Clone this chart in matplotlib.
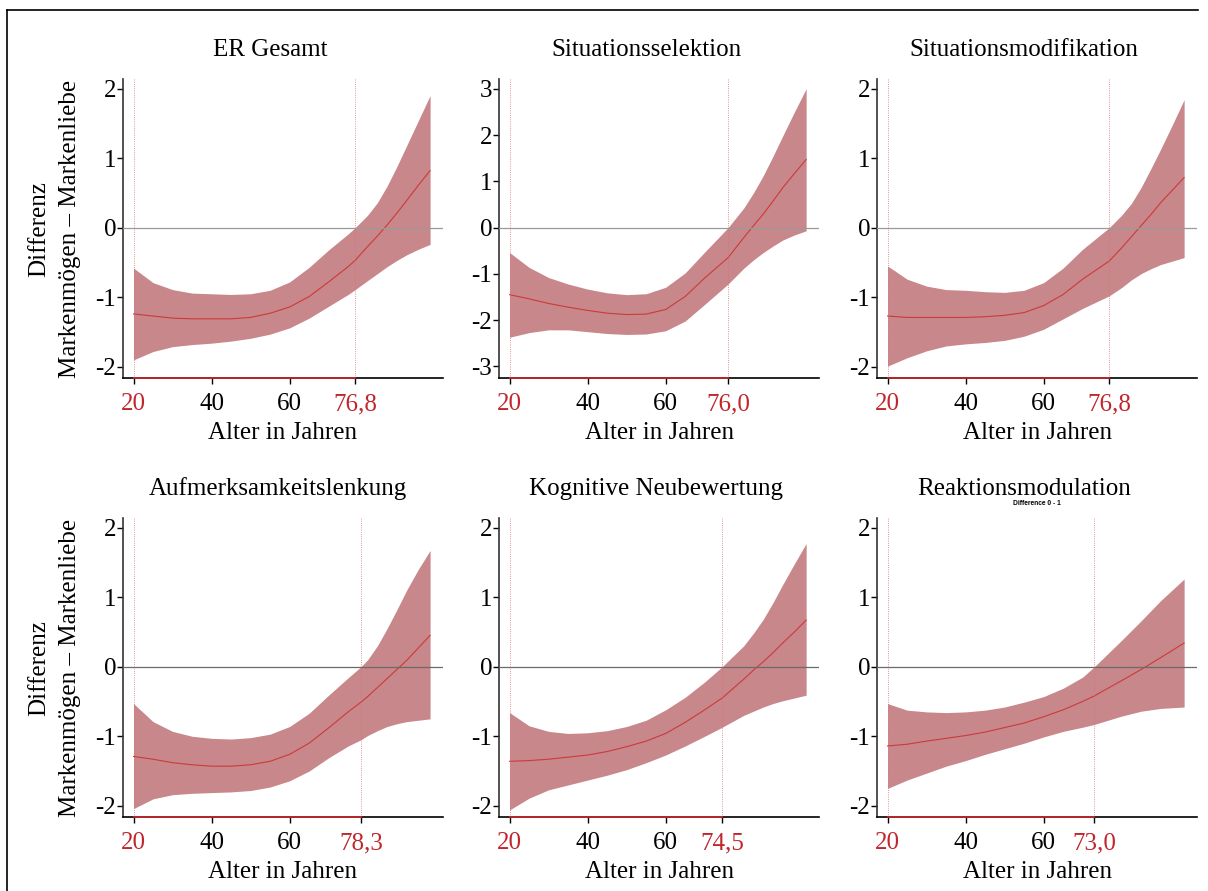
import numpy as np
from matplotlib import pyplot as plt
from matplotlib.lines import Line2D

plt.rcParams['font.family'] = ['Liberation Serif', 'DejaVu Serif']
plt.rcParams['axes.unicode_minus'] = False

################################################### # data # ##################################################

titles = ["ER Gesamt", "Situationsselektion", "Situationsmodifikation",
          "Aufmerksamkeitslenkung", "Kognitive Neubewertung", "Reaktionsmodulation"]

# age where the upper bound crosses zero
cross = [76.8, 76.0, 76.8, 78.3, 74.5, 73.0]
cross_lbl = ["76,8", "76,0", "76,8", "78,3", "74,5", "73,0"]

age_er = [20, 25, 30, 35, 40, 45, 50, 55, 60, 65, 70, 75, 76.8, 80, 82.5, 85, 87.5, 90, 93, 96]
est_er = [-1.24, -1.27, -1.30, -1.31, -1.31, -1.31, -1.29, -1.23, -1.14, -0.99, -0.78, -0.56, -0.47, -0.27, -0.12, 0.04, 0.21, 0.39, 0.61, 0.82]
hi_er = [-0.58, -0.79, -0.89, -0.94, -0.95, -0.96, -0.95, -0.90, -0.78, -0.57, -0.32, -0.09, 0.0, 0.18, 0.36, 0.60, 0.88, 1.18, 1.54, 1.90]
lo_er = [-1.90, -1.78, -1.71, -1.68, -1.66, -1.63, -1.59, -1.53, -1.44, -1.30, -1.13, -0.96, -0.89, -0.76, -0.66, -0.56, -0.47, -0.39, -0.31, -0.24]

age_sel = [20, 25, 30, 35, 40, 45, 50, 55, 60, 65, 70, 76, 80, 82.5, 85, 87.5, 90, 93, 96]
est_sel = [-1.45, -1.54, -1.64, -1.72, -1.79, -1.85, -1.88, -1.87, -1.77, -1.49, -1.09, -0.65, -0.22, 0.04, 0.29, 0.57, 0.86, 1.17, 1.47]
hi_sel = [-0.54, -0.86, -1.08, -1.22, -1.33, -1.41, -1.45, -1.43, -1.29, -0.98, -0.53, 0.0, 0.42, 0.75, 1.12, 1.54, 1.98, 2.50, 3.0]
lo_sel = [-2.37, -2.27, -2.21, -2.21, -2.25, -2.29, -2.31, -2.30, -2.23, -2.02, -1.66, -1.22, -0.88, -0.70, -0.54, -0.40, -0.27, -0.16, -0.07]

age_mod = [20, 25, 30, 35, 40, 45, 50, 55, 60, 65, 70, 76.8, 80, 82.5, 85, 87.5, 90, 93, 96]
est_mod = [-1.27, -1.29, -1.29, -1.29, -1.29, -1.28, -1.26, -1.22, -1.12, -0.96, -0.74, -0.48, -0.29, -0.13, 0.03, 0.19, 0.36, 0.54, 0.72]
hi_mod = [-0.55, -0.74, -0.84, -0.89, -0.90, -0.92, -0.93, -0.90, -0.79, -0.58, -0.31, 0.0, 0.18, 0.35, 0.58, 0.85, 1.13, 1.48, 1.84]
lo_mod = [-1.99, -1.87, -1.77, -1.70, -1.67, -1.65, -1.62, -1.56, -1.46, -1.31, -1.16, -0.98, -0.86, -0.75, -0.66, -0.59, -0.53, -0.48, -0.43]

age_auf = [20, 25, 30, 35, 40, 45, 50, 55, 60, 65, 70, 75, 78.3, 80, 82.5, 85, 87.5, 90, 93, 96]
est_auf = [-1.29, -1.33, -1.38, -1.41, -1.43, -1.43, -1.41, -1.36, -1.26, -1.10, -0.88, -0.65, -0.51, -0.43, -0.30, -0.17, -0.04, 0.09, 0.27, 0.45]
hi_auf = [-0.53, -0.79, -0.93, -1.00, -1.03, -1.04, -1.02, -0.97, -0.86, -0.67, -0.41, -0.16, 0.0, 0.10, 0.30, 0.55, 0.82, 1.10, 1.40, 1.67]
lo_auf = [-2.04, -1.90, -1.84, -1.82, -1.81, -1.80, -1.78, -1.73, -1.64, -1.50, -1.31, -1.14, -1.05, -0.99, -0.92, -0.86, -0.82, -0.79, -0.77, -0.75]

age_kog = [20, 25, 30, 35, 40, 45, 50, 55, 60, 65, 70, 74.5, 80, 82.5, 85, 87.5, 90, 93, 96]
est_kog = [-1.36, -1.35, -1.33, -1.30, -1.27, -1.22, -1.15, -1.07, -0.96, -0.80, -0.62, -0.45, -0.18, -0.05, 0.07, 0.20, 0.34, 0.50, 0.67]
hi_kog = [-0.66, -0.85, -0.93, -0.96, -0.95, -0.92, -0.86, -0.77, -0.62, -0.44, -0.22, 0.0, 0.30, 0.48, 0.68, 0.92, 1.18, 1.48, 1.77]
lo_kog = [-2.06, -1.89, -1.77, -1.70, -1.63, -1.56, -1.48, -1.38, -1.27, -1.14, -1.00, -0.87, -0.70, -0.64, -0.58, -0.53, -0.49, -0.45, -0.41]

age_rea = [20, 25, 30, 35, 40, 45, 50, 55, 60, 65, 70, 73, 80, 85, 90, 96]
est_rea = [-1.14, -1.115, -1.07, -1.03, -0.99, -0.94, -0.875, -0.81, -0.72, -0.62, -0.50, -0.42, -0.20, -0.04, 0.13, 0.34]
hi_rea = [-0.53, -0.625, -0.65, -0.66, -0.65, -0.625, -0.58, -0.51, -0.43, -0.31, -0.15, 0.0, 0.38, 0.66, 0.95, 1.26]
lo_rea = [-1.75, -1.63, -1.53, -1.43, -1.35, -1.26, -1.18, -1.10, -1.01, -0.93, -0.87, -0.83, -0.71, -0.64, -0.60, -0.58]

ages = [age_er, age_sel, age_mod, age_auf, age_kog, age_rea]
est = [est_er, est_sel, est_mod, est_auf, est_kog, est_rea]
hi = [hi_er, hi_sel, hi_mod, hi_auf, hi_kog, hi_rea]
lo = [lo_er, lo_sel, lo_mod, lo_auf, lo_kog, lo_rea]

################################################### # layout # ##################################################

red = "#c0272d"
band = "#c8878b"

fig = plt.figure(figsize=(12.08, 8.91), dpi=100)

lefts = [0.1018, 0.4131, 0.7260]
bottoms = [0.5758, 0.0831]
w, h = 0.2649, 0.3350
title_x = [0.46, 0.46, 0.46, 0.485, 0.49, 0.46]
zero_col = ["#9a9a9a", "#6a6a6a"]

for i in range(6):
    row, col = divmod(i, 3)
    ax = fig.add_axes([lefts[col], bottoms[row], w, h])

    ax.fill_between(ages[i], lo[i], hi[i], color=band, lw=0, zorder=1)
    ax.plot(ages[i], est[i], color="#cc3a3a", lw=0.8, zorder=2)

    ax.axhline(0, color=zero_col[row], lw=0.9, zorder=3)
    ax.axvline(20, color="#d87070", lw=0.6, ls=":", zorder=3)
    ax.axvline(cross[i], color="#d87070", lw=0.6, ls=":", zorder=3)

    if i == 1:
        ax.set_ylim(-3.25, 3.2)
        ax.set_yticks([-3, -2, -1, 0, 1, 2, 3])
    else:
        ax.set_ylim(-2.16, 2.13)
        ax.set_yticks([-2, -1, 0, 1, 2])
    ax.set_xlim(17.3, 99.3)

    # region of significance marked on the x axis
    ax.plot([20, cross[i]], [ax.get_ylim()[0]] * 2, color=red, lw=1.3,
            clip_on=False, zorder=5)

    ax.set_xticks([20, 40, 60, cross[i]])
    ax.set_xticklabels(["20", "40", "60", cross_lbl[i]])
    for k in (0, 3):
        ax.get_xticklabels()[k].set_color(red)

    for s in ("top", "right"):
        ax.spines[s].set_visible(False)
    ax.spines["left"].set_linewidth(1.2)
    ax.spines["bottom"].set_linewidth(1.2)
    ax.spines["left"].set_color("#333333")

    ax.tick_params(axis="y", labelsize=18, length=4, width=1, pad=1)
    ax.tick_params(axis="x", labelsize=18, length=4, width=1, pad=7)

    ax.set_title(titles[i], fontsize=18, pad=17, x=title_x[i])
    ax.set_xlabel("Alter in Jahren", fontsize=18, labelpad=5)

    if col == 0:
        ax.set_ylabel("Differenz\nMarkenmögen – Markenliebe", fontsize=18,
                      labelpad=10, linespacing=1.55)

    if i == 5:
        ax.text(0.5, 1.05, "Difference 0 - 1", transform=ax.transAxes,
                fontsize=4.8, fontweight="bold", family="Liberation Sans",
                ha="center", va="center")

# frame lines round the graph
fig.add_artist(Line2D([0.0058, 0.9917], [0.9888, 0.9888], color="black", lw=1.2))
fig.add_artist(Line2D([0.0058, 0.0058], [0.0, 0.9888], color="black", lw=1.2))

plt.savefig("out.png", dpi=100)
